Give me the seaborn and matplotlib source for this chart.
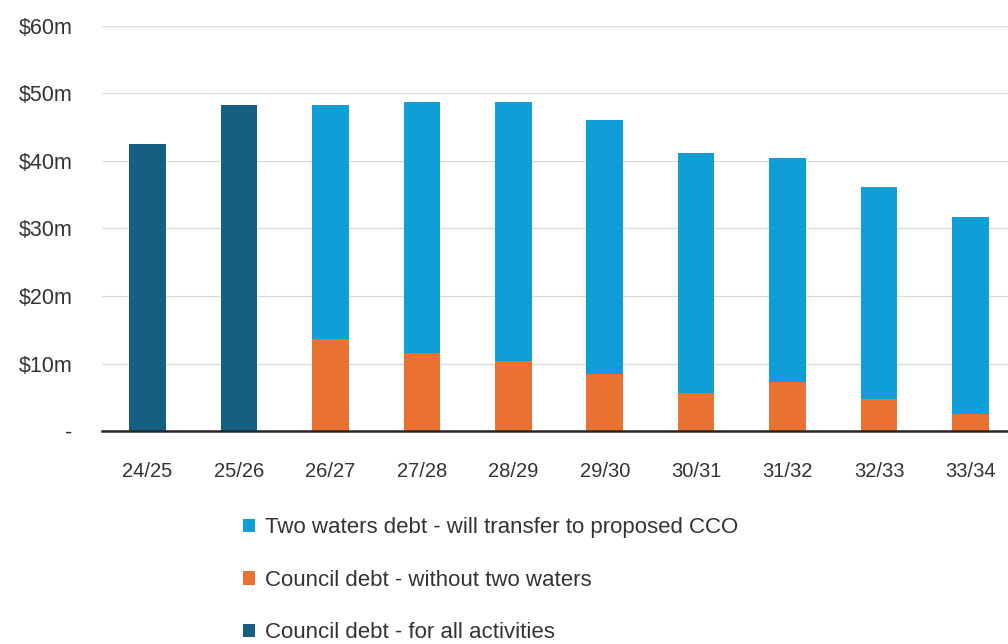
import matplotlib
matplotlib.use("Agg")
import matplotlib.pyplot as plt
from matplotlib.patches import Patch
import seaborn as sns
import pandas as pd

# ---- data ----
years = ["24/25", "25/26", "26/27", "27/28", "28/29", "29/30", "30/31", "31/32", "32/33", "33/34"]
council_all = [42.5, 48.3, 0, 0, 0, 0, 0, 0, 0, 0]
council_without = [0, 0, 13.6, 11.6, 10.4, 8.4, 5.7, 7.3, 4.8, 2.5]
two_waters = [0, 0, 34.7, 37.2, 38.4, 37.6, 35.5, 33.2, 31.3, 29.2]
yticks = [0, 10, 20, 30, 40, 50, 60]
ytick_labels = ["-", r"\$10m", r"\$20m", r"\$30m", r"\$40m", r"\$50m", r"\$60m"]
legend_labels = [
    "Two waters debt - will transfer to proposed CCO",
    "Council debt - without two waters",
    "Council debt - for all activities",
]

c_light = "#0F9ED5"
c_orange = "#E97132"
c_dark = "#156082"

sns.set_theme(style="white")
plt.rcParams["font.family"] = ["Liberation Sans", "DejaVu Sans"]

df = pd.DataFrame({
    "year": years,
    "all": council_all,
    "without": council_without,
    "two": two_waters,
})
df["stack_top"] = df["without"] + df["two"]

fig = plt.figure(figsize=(10.08, 6.44), dpi=100)
ax = fig.add_axes([0.101, 0.3307, 0.899, 0.629])

bar_kw = dict(width=0.40, saturation=1, ax=ax, zorder=3, linewidth=0, edgecolor="none")
sns.barplot(data=df, x="year", y="stack_top", color=c_light, **bar_kw)
sns.barplot(data=df, x="year", y="without", color=c_orange, **bar_kw)
sns.barplot(data=df, x="year", y="all", color=c_dark, **bar_kw)

ax.set_xlim(-0.5, 9.41)
ax.set_ylim(0, 60)
ax.set_yticks(yticks)
ax.set_yticklabels(ytick_labels)
ax.set_xlabel("")
ax.set_ylabel("")

ax.yaxis.grid(True, color="#d9d9d9", linewidth=0.9, zorder=0)
ax.xaxis.grid(False)
for s in ["top", "right", "left"]:
    ax.spines[s].set_visible(False)
ax.spines["bottom"].set_color("#262626")
ax.spines["bottom"].set_linewidth(1.8)
ax.spines["bottom"].set_zorder(5)

ax.tick_params(axis="y", length=0, pad=21, labelsize=15.5, labelcolor="#333333")
ax.tick_params(axis="x", length=0, pad=22, labelsize=14.5, labelcolor="#333333")

handles = [Patch(facecolor=c, edgecolor="none") for c in (c_light, c_orange, c_dark)]
fig.legend(handles, legend_labels, loc="center left",
           bbox_to_anchor=(0.241, 0.099), frameon=False,
           fontsize=16, labelcolor="#333333",
           handlelength=0.55, handleheight=0.55, handletextpad=0.45,
           labelspacing=1.42, borderpad=0, borderaxespad=0)

fig.savefig("out.png", dpi=100)
